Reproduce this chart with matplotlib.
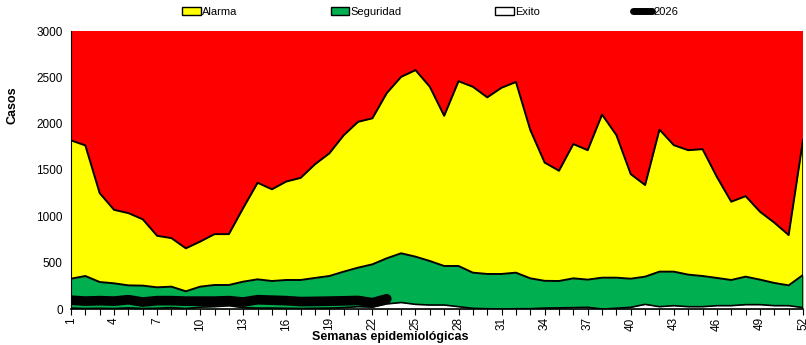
import numpy as np
import matplotlib
matplotlib.use('Agg')
import matplotlib.pyplot as plt
from matplotlib.patches import Patch
from matplotlib.lines import Line2D

plt.rcParams['font.family'] = ['Liberation Sans Narrow', 'Liberation Sans', 'DejaVu Sans']

weeks = list(range(1, 53))
alarma = [1820, 1765, 1250, 1070, 1035, 968, 790, 765, 655, 728, 808, 808, 1090, 1362,
          1292, 1376, 1415, 1562, 1680, 1875, 2020, 2058, 2330, 2505, 2578, 2398, 2085,
          2458, 2398, 2284, 2388, 2450, 1932, 1580, 1492, 1780, 1714, 2098, 1876, 1455,
          1338, 1936, 1768, 1714, 1725, 1425, 1158, 1218, 1050, 932, 798, 1822]
seguridad = [327, 356, 291, 277, 255, 252, 234, 241, 191, 241, 259, 259, 295, 320,
             302, 313, 313, 335, 356, 403, 446, 482, 547, 601, 565, 518, 464,
             464, 392, 378, 378, 392, 331, 304, 302, 331, 317, 338, 338, 327,
             349, 403, 403, 371, 356, 335, 313, 349, 317, 281, 255, 367]
exito = [10, 5, 8, 5, 12, 5, 8, 15, 5, 20, 25, 35, 15, 10,
         10, 8, 5, 8, 10, 15, 25, 20, 55, 70, 50, 43, 43,
         25, 7, 3, 0, 3, 3, 10, 12, 15, 18, 0, 8, 18,
         50, 25, 36, 25, 25, 36, 36, 47, 47, 36, 36, 15]
weeks_2026 = list(range(1, 24))
casos_2026 = [95, 85, 90, 85, 100, 75, 90, 90, 85, 85, 85, 90, 75, 100,
              95, 90, 80, 82, 85, 88, 92, 68, 110]

fig = plt.figure(figsize=(8.06, 3.45), dpi=100)
ax = fig.add_axes([71 / 806, 36 / 345, 732 / 806, 278 / 345])

ax.fill_between(weeks, 0, 3000, color='#FF0000', lw=0)
ax.fill_between(weeks, 0, alarma, color='#FFFF00', lw=0)
ax.plot(weeks, alarma, color='black', lw=1.4)
ax.fill_between(weeks, 0, seguridad, color='#00B050', lw=0)
ax.plot(weeks, seguridad, color='black', lw=1.4)
ax.fill_between(weeks, 0, exito, color='white', lw=0)
ax.plot(weeks, exito, color='black', lw=1.2)
ax.plot(weeks_2026, casos_2026, color='black', lw=7, solid_capstyle='round')
ax.plot([52, 52], [0, alarma[-1]], color='black', lw=1.2)

ax.set_xlim(1, 52)
ax.set_ylim(0, 3000)
ax.set_yticks(range(0, 3001, 500))
ax.set_xticks(range(1, 53, 3))
ax.set_xticks(weeks, minor=True)
ax.tick_params(axis='x', which='both', direction='out', length=4, width=0.8,
               labelsize=8.5, labelrotation=90, pad=2)
ax.tick_params(axis='y', length=0, labelsize=8.5, pad=6)
for s in ['top', 'right']:
    ax.spines[s].set_visible(False)
ax.spines['left'].set_linewidth(0.8)
ax.spines['bottom'].set_linewidth(1.2)

fig.text(13 / 806, 1 - 105 / 345, 'Casos', rotation=90, ha='center', va='center',
         fontsize=9, fontweight='bold', family=['Liberation Sans', 'DejaVu Sans'])
fig.text(390 / 806, 1 - 337 / 345, 'Semanas epidemiológicas', ha='center', va='center',
         fontsize=9, fontweight='bold')

handles = [Patch(facecolor='#FFFF00', edgecolor='black', lw=1),
           Patch(facecolor='#00B050', edgecolor='black', lw=1),
           Patch(facecolor='white', edgecolor='black', lw=1),
           Line2D([0], [0], color='black', lw=5, solid_capstyle='round')]
fig.legend(handles, ['Alarma', 'Seguridad', 'Exito', '2026'], loc='center',
           bbox_to_anchor=(430 / 806, 1 - 12 / 345), ncol=4, frameon=False,
           fontsize=8, handlelength=1.7, handleheight=0.8, handletextpad=0.1,
           columnspacing=8.4, borderaxespad=0)

fig.savefig('out.png', dpi=100)
